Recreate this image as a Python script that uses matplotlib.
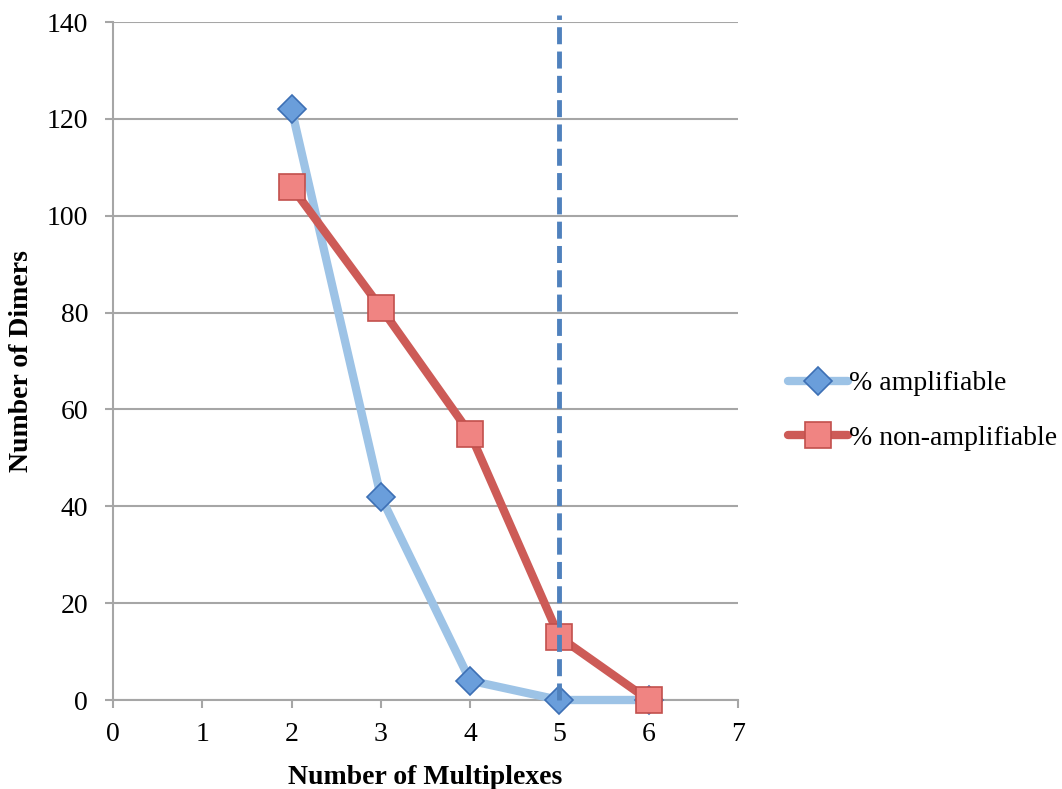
import matplotlib
matplotlib.use("Agg")
import matplotlib.pyplot as plt

x_vals = [2, 3, 4, 5, 6]
amplifiable = [122, 42, 4, 0, 0]
non_amplifiable = [106, 81, 55, 13, 0]
threshold_x = 5
x_ticks = [0, 1, 2, 3, 4, 5, 6, 7]
y_ticks = [0, 20, 40, 60, 80, 100, 120, 140]

plt.rcParams['font.family'] = ['Liberation Serif', 'DejaVu Serif']
FS = 20

fig = plt.figure(figsize=(10.62, 7.89), dpi=100)
ax = fig.add_axes([113/1062, 1 - 700/789, (738-113)/1062, (700-22)/789])

grid_c = '#A6A6A6'
ax.set_xlim(0, 7)
ax.set_ylim(0, 140)
ax.set_xticks(x_ticks)
ax.set_yticks(y_ticks)
ax.yaxis.grid(True, color=grid_c, linewidth=1.5, zorder=0)
ax.set_axisbelow(True)
for s in ['top', 'right']:
    ax.spines[s].set_visible(False)
for s in ['left', 'bottom']:
    ax.spines[s].set_color(grid_c)
    ax.spines[s].set_linewidth(1.5)
ax.tick_params(axis='both', colors=grid_c, labelcolor='black', labelsize=FS,
               length=6, width=1.5, direction='out')
ax.tick_params(axis='y', pad=12)
ax.tick_params(axis='x', pad=10)

l1, = ax.plot(x_vals, amplifiable, color='#9DC3E6', linewidth=6, marker='D',
              markersize=14, markerfacecolor='#6A9EDB', markeredgecolor='#3D70B5',
              markeredgewidth=1.2, label='% amplifiable', zorder=3,
              solid_capstyle='round', clip_on=False)
l2, = ax.plot(x_vals, non_amplifiable, color='#CD5B57', linewidth=6, marker='s',
              markersize=19, markerfacecolor='#F08482', markeredgecolor='#C2504D',
              markeredgewidth=1.2, label='% non-amplifiable', zorder=4,
              solid_capstyle='round', clip_on=False)
ax.axvline(threshold_x, ymax=1.01, color='#4F81BD', linewidth=3.5,
           linestyle=(0, (3.5, 1.5)), zorder=5, clip_on=False)

ax.set_xlabel('Number of Multiplexes', fontsize=FS, fontweight='bold', labelpad=13)
ax.set_ylabel('Number of Dimers', fontsize=FS, fontweight='bold')
ax.yaxis.set_label_coords((34 - 113) / 625, 0.5)

fig.legend(handles=[l1, l2], loc='center left', bbox_to_anchor=(777/1062, 1 - 411/789),
           frameon=False, fontsize=FS, handlelength=2.15, handletextpad=0.05,
           labelspacing=1.05, borderaxespad=0)

fig.savefig('out.png', dpi=100)
